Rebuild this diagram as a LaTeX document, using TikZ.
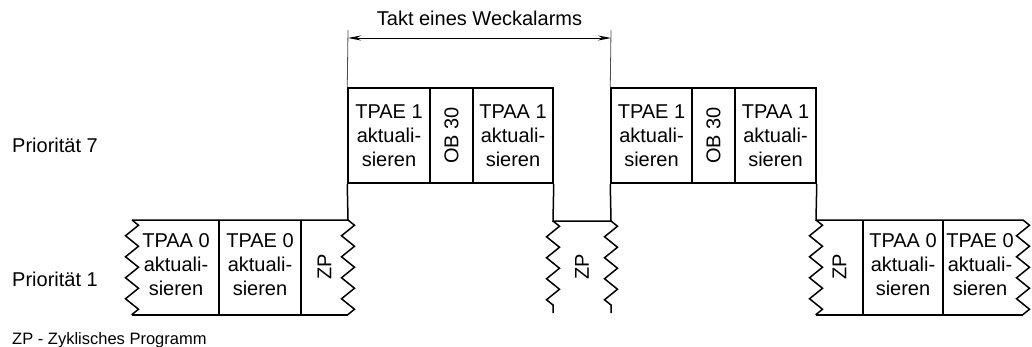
\documentclass[tikz,border=0pt]{standalone}
\usepackage{fontspec}
\setmainfont{Liberation Sans}
\usetikzlibrary{arrows.meta,decorations.pathmorphing}
\begin{document}
\begin{tikzpicture}[x=1pt,y=-1pt,
  every node/.style={inner sep=0pt, font=\fontsize{20}{24}\selectfont},
  cell/.style={draw, line width=1.5pt, minimum height=95pt, align=center},
  txt/.style={align=center},
  vtxt/.style={rotate=90},
  edge/.style={line width=1.5pt},
  zz/.style={line width=1.5pt, decorate, decoration={zigzag, segment length=21pt, amplitude=6.5pt}},
  tick/.style={line width=0.8pt, draw=black!70},
  dim/.style={line width=0.9pt, {Stealth[length=13pt,width=5pt]}-{Stealth[length=13pt,width=5pt]}},
  lbl/.style={anchor=base west},
  note/.style={anchor=base west, font=\fontsize{16.5}{20}\selectfont}
]
\useasboundingbox (0,0) rectangle (1032,346);

% priority 7: first interrupt cycle
\node[cell, minimum width=82pt] (a1) at (389,135.5) {TPAE 1\\aktuali-\\sieren};
\node[cell, minimum width=43pt] (b1) at (451.5,135.5) {};
\node[vtxt] (b1t) at (b1.center) {OB 30};
\node[cell, minimum width=80pt] (c1) at (513,135.5) {TPAA 1\\aktuali-\\sieren};

% priority 7: second interrupt cycle
\node[cell, minimum width=81pt] (a2) at (651.5,135.5) {TPAE 1\\aktuali-\\sieren};
\node[cell, minimum width=43pt] (b2) at (713.5,135.5) {};
\node[vtxt] (b2t) at (b2.center) {OB 30};
\node[cell, minimum width=81pt] (c2) at (775.5,135.5) {TPAA 1\\aktuali-\\sieren};

% interval of the cyclic interrupt
\coordinate (tl) at (348,30);
\coordinate (tr) at (611,30);
\coordinate (dl) at (348,38);
\coordinate (dr) at (611,38);
\draw[tick] (tl) -- (a1.north west);
\draw[tick] (tr) -- (a2.north west);
\draw[dim] (dl) -- (dr);
\node[anchor=base] (takt) at (479.5,25) {Takt eines Weckalarms};

% priority 1: before the first interrupt
\coordinate (l0) at (132,220);
\coordinate (l1) at (348,220);
\coordinate (l0b) at (132,315);
\coordinate (l1b) at (348,315);
\draw[edge] (a1.south west) -- (l1) -- (l0);
\draw[edge] (l0b) -- (l1b);
\draw[edge] (219,220) -- (219,315);
\draw[edge] (301,220) -- (301,315);
\draw[zz] (l0) -- (l0b);
\draw[zz] (l1) -- (l1b);
\node[txt] (p1a) at (176,265) {TPAA 0\\aktuali-\\sieren};
\node[txt] (p1b) at (260,265) {TPAE 0\\aktuali-\\sieren};
\node[vtxt] (p1c) at (324.5,267) {ZP};

% priority 1: between the two interrupts
\coordinate (m0) at (553,221);
\coordinate (m1) at (611,221);
\coordinate (m0b) at (553,313);
\coordinate (m1b) at (611,313);
\draw[edge] (c1.south east) -- (m0) -- (m1) -- (a2.south west);
\draw[zz] (m0) -- (m0b);
\draw[zz] (m1) -- (m1b);
\node[vtxt] (mzp) at (582,267) {ZP};

% priority 1: after the second interrupt
\coordinate (r0) at (816,220);
\coordinate (r1) at (1023,220);
\coordinate (r0b) at (816,315);
\coordinate (r1b) at (1023,315);
\draw[edge] (c2.south east) -- (r0) -- (r1);
\draw[edge] (r0b) -- (r1b);
\draw[edge] (863,220) -- (863,315);
\draw[edge] (943,220) -- (943,315);
\draw[zz] (r0) -- (r0b);
\draw[zz] (r1) -- (r1b);
\node[vtxt] (p1d) at (839.5,267) {ZP};
\node[txt] (p1e) at (903,265) {TPAA 0\\aktuali-\\sieren};
\node[txt] (p1f) at (980,265) {TPAE 0\\aktuali-\\sieren};

% row labels and legend
\node[lbl] (prio7) at (12,152) {Priorität 7};
\node[lbl] (prio1) at (12,286) {Priorität 1};
\node[note] (legend) at (12,344) {ZP - Zyklisches Programm};
\end{tikzpicture}
\end{document}
